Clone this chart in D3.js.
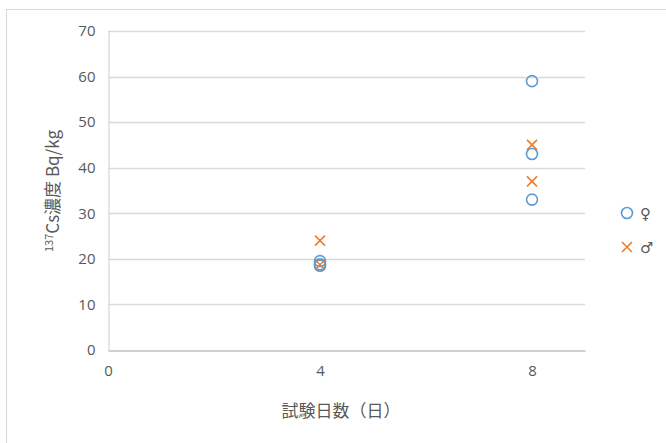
<!DOCTYPE html>
<html>
<head>
<meta charset="utf-8">
<script src="https://cdn.jsdelivr.net/npm/d3@7"></script>
<style>
  html, body { margin: 0; padding: 0; background: #fff; }
  svg { display: block; font-family: "Noto Sans CJK JP", "Noto Sans", sans-serif; }
</style>
</head>
<body>
<svg id="chart" width="666" height="443"></svg>
<script>
// 試験日数ごとの 137Cs 濃度（雌・雄）
const femaleDays = [4, 4, 4, 8, 8, 8];
const femaleValues = [19.5, 18.8, 18.5, 59, 43, 33];
const maleDays = [4, 4, 8, 8];
const maleValues = [24, 18.7, 45, 37];
const xTicks = [0, 4, 8];
const yTicks = [0, 10, 20, 30, 40, 50, 60, 70];
const seriesNames = ["♀", "♂"];

const blue = "#5b9bd5";
const orange = "#ed7d31";
const textColor = "#595959";

const svg = d3.select("#chart");

// chart frame
svg.append("rect")
  .attr("x", 6.5).attr("y", 9.5)
  .attr("width", 700).attr("height", 500)
  .attr("fill", "#fff").attr("stroke", "#d9d9d9").attr("stroke-width", 1);

const plotLeft = 108, plotRight = 585, plotTop = 31, plotBottom = 350;
const x = d3.scaleLinear().domain([0, 9]).range([plotLeft, plotRight]);
const y = d3.scaleLinear().domain([0, 70]).range([plotBottom, plotTop]);

// gridlines
svg.append("g")
  .selectAll("line")
  .data(yTicks.filter(d => d > 0))
  .join("line")
  .attr("x1", plotLeft).attr("x2", plotRight)
  .attr("y1", d => Math.round(y(d)) + 0.5).attr("y2", d => Math.round(y(d)) + 0.5)
  .attr("stroke", "#d9d9d9").attr("stroke-width", 1.3);

// y axis
const yAxis = svg.append("g")
  .attr("transform", `translate(${plotLeft + 0.5},0)`)
  .call(d3.axisLeft(y).tickValues(yTicks).tickSize(0).tickPadding(13));
yAxis.select(".domain").attr("stroke", "#d9d9d9").attr("stroke-width", 1.3);
yAxis.selectAll("text").attr("fill", textColor).style("font-size", "15px")
  .style("font-family", "'Open Sans', 'Noto Sans', sans-serif");

// x axis
const xAxis = svg.append("g")
  .attr("transform", `translate(0,${plotBottom + 0.5})`)
  .call(d3.axisBottom(x).tickValues(xTicks).tickSize(0).tickPadding(15));
xAxis.select(".domain").attr("stroke", "#bfbfbf").attr("stroke-width", 1.3);
xAxis.selectAll("text").attr("fill", textColor).style("font-size", "15px")
  .style("font-family", "'Open Sans', 'Noto Sans', sans-serif");

// axis titles
svg.append("text")
  .attr("x", 341).attr("y", 417)
  .attr("text-anchor", "middle")
  .attr("fill", textColor)
  .style("font-size", "17px")
  .text("試験日数（日）");

const yTitle = svg.append("text")
  .attr("transform", "translate(59,191) rotate(-90)")
  .attr("text-anchor", "middle")
  .attr("fill", textColor)
  .style("font-size", "17px");
yTitle.append("tspan").attr("dy", "-6").style("font-size", "11px").text("137");
yTitle.append("tspan").attr("dy", "6").text("Cs濃度 Bq/kg");

// markers
function circleMark(g, cx, cy) {
  g.append("circle").attr("cx", cx).attr("cy", cy).attr("r", 5.5)
    .attr("fill", "none").attr("stroke", blue).attr("stroke-width", 1.6);
}
function crossMark(g, cx, cy) {
  const s = 5;
  g.append("path")
    .attr("d", `M${cx - s},${cy - s}L${cx + s},${cy + s}M${cx - s},${cy + s}L${cx + s},${cy - s}`)
    .attr("stroke", orange).attr("stroke-width", 1.6).attr("fill", "none");
}

const gF = svg.append("g");
femaleValues.forEach((v, i) => circleMark(gF, x(femaleDays[i]), y(v)));
const gM = svg.append("g");
maleValues.forEach((v, i) => crossMark(gM, x(maleDays[i]), y(v)));

// legend
const lg = svg.append("g");
circleMark(lg, 627, 213);
crossMark(lg, 627, 247);
lg.append("text").attr("x", 640).attr("y", 219).attr("fill", textColor)
  .style("font-size", "15px").style("font-family", "'DejaVu Sans', sans-serif").text(seriesNames[0]);
lg.append("text").attr("x", 640).attr("y", 253).attr("fill", textColor)
  .style("font-size", "15px").style("font-family", "'DejaVu Sans', sans-serif").text(seriesNames[1]);
</script>
</body>
</html>
